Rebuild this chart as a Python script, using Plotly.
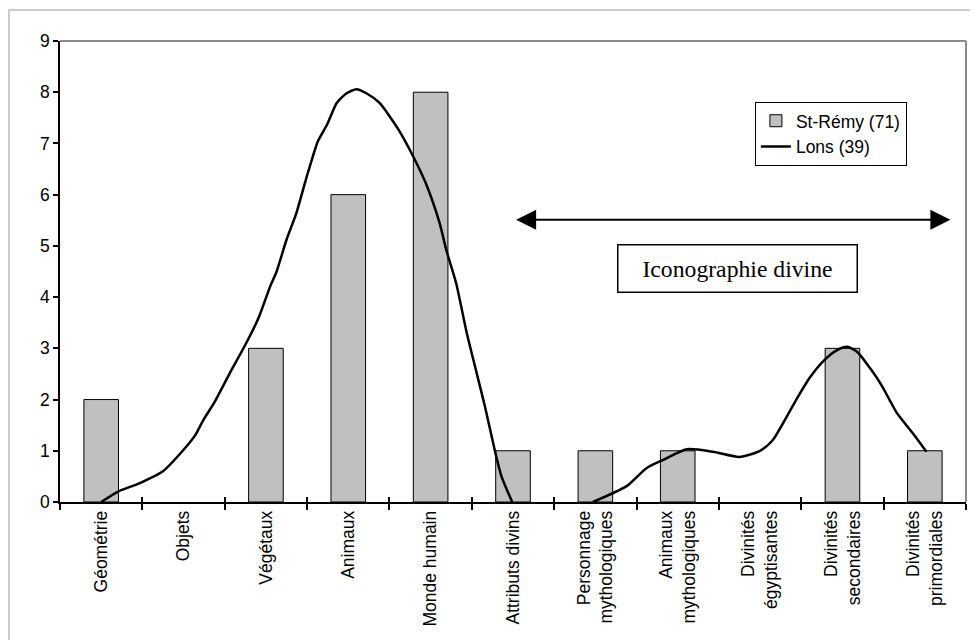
import plotly.graph_objects as go

categories = ["Géométrie", "Objets", "Végétaux", "Animaux", "Monde humain",
              "Attributs divins", "Personnage<br>mythologiques", "Animaux<br>mythologiques",
              "Divinités<br>égyptisantes", "Divinités<br>secondaires", "Divinités<br>primordiales"]
st_remy = [2, 0, 3, 6, 8, 1, 1, 1, 0, 3, 1]

# Lons (39): freehand curve, x in category units
lons_x = [0.0, 0.20, 0.47, 0.75, 0.99, 1.14, 1.24, 1.38, 1.56, 1.75, 1.91, 2.05, 2.13,
          2.25, 2.37, 2.49, 2.63, 2.74, 2.86, 2.98, 3.10, 3.22, 3.38, 3.61, 3.79, 3.95,
          4.11, 4.19, 4.31, 4.44, 4.56, 4.66, 4.78, 4.86, 4.99,
          None,
          5.97, 6.38, 6.62, 6.82, 7.11, 7.43, 7.75, 8.0, 8.15, 8.44, 8.60, 8.78, 8.94,
          9.06, 9.18, 9.35, 9.47, 9.57, 9.66, 9.85, 10.02]
lons_y = [0.0, 0.2, 0.37, 0.6, 1.0, 1.3, 1.6, 1.96, 2.51, 3.07, 3.59, 4.2, 4.5,
          5.12, 5.64, 6.32, 7.04, 7.36, 7.79, 7.98, 8.06, 7.98, 7.79, 7.27, 6.74, 6.19,
          5.44, 4.92, 4.27, 3.29, 2.51, 1.86, 1.0, 0.5, 0.0,
          None,
          0.0, 0.31, 0.66, 0.82, 1.03, 0.98, 0.88, 1.0, 1.2, 2.0, 2.42, 2.77, 2.97,
          3.03, 2.93, 2.58, 2.29, 2.0, 1.74, 1.35, 0.98]

y_ticks = list(range(0, 10))

idx = list(range(len(categories)))
bounds = [i - 0.5 for i in range(len(categories) + 1)]
outline_w = [0 if v == 0 else 1 for v in st_remy]

FS = 17.5

fig = go.Figure()
fig.add_trace(go.Bar(x=idx, y=st_remy, name="St-Rémy (71)", legendgroup="a",
                     marker=dict(color="#c0c0c0", line=dict(color="black", width=outline_w)),
                     width=0.42))
fig.add_trace(go.Scatter(x=lons_x, y=lons_y, name="Lons (39)", mode="lines", legendgroup="b",
                         line=dict(color="black", width=2.5, shape="spline", smoothing=0.6),
                         connectgaps=False))
# invisible trace on xaxis2 to activate inside ticks
fig.add_trace(go.Scatter(x=[0], y=[0], xaxis="x2", mode="markers",
                         marker=dict(opacity=0), showlegend=False, hoverinfo="skip"))

font_family = "Liberation Sans, Arial, sans-serif"
fig.update_layout(
    width=970, height=632,
    margin=dict(l=52, r=12, t=33, b=138, autoexpand=False),
    paper_bgcolor="white", plot_bgcolor="white",
    font=dict(family=font_family, size=FS, color="black"),
    showlegend=True,
    legend=dict(x=0.767, y=0.868, xanchor="left", yanchor="top",
                bgcolor="white", bordercolor="black", borderwidth=1,
                font=dict(size=FS), tracegroupgap=0, traceorder="grouped"),
    xaxis=dict(range=[-0.5, 10.5], tickvals=idx, ticktext=categories, tickangle=-90,
               ticks="", showline=True, linecolor="black", linewidth=1.5,
               showgrid=False, zeroline=False, automargin=False,
               minor=dict(tickvals=bounds, ticks="outside", ticklen=6, tickcolor="black",
                          tickwidth=1.5, showgrid=False),
               tickfont=dict(size=FS)),
    xaxis2=dict(range=[-0.5, 10.5], overlaying="x", anchor="y", side="bottom",
                tickvals=bounds, ticks="inside", ticklen=5, tickcolor="black", tickwidth=1.5,
                showticklabels=False, showgrid=False, zeroline=False, showline=False),
    yaxis=dict(range=[0, 9], tickvals=y_ticks, ticks="outside", ticklen=5,
               tickcolor="black", tickwidth=1.5, showline=True, linecolor="black",
               linewidth=1.5, showgrid=False, zeroline=False, automargin=False,
               tickfont=dict(size=FS)),
    bargap=0.58,
)

# plot-area top and right border (gray)
fig.add_shape(type="line", xref="paper", yref="paper", x0=0, x1=1, y0=1, y1=1,
              line=dict(color="#8a8a8a", width=2))
fig.add_shape(type="line", xref="paper", yref="paper", x0=1, x1=1, y0=0, y1=1,
              line=dict(color="#8a8a8a", width=2))
# outer chart-area border
fig.add_shape(type="rect", xref="paper", yref="paper", x0=-0.0563, x1=1.2, y0=-0.5, y1=1.0672,
              line=dict(color="#cccccc", width=2), layer="below")

# double-headed arrow
fig.add_annotation(x=10.31, y=5.51, ax=5.02, ay=5.51, xref="x", yref="y", axref="x", ayref="y",
                   text="", showarrow=True, arrowhead=2, startarrowhead=2, arrowside="end+start",
                   arrowsize=2, startarrowsize=2, arrowwidth=2, arrowcolor="black")
# text box
fig.add_annotation(x=7.73, y=4.55, xref="x", yref="y", text="Iconographie divine",
                   showarrow=False, font=dict(family="Liberation Serif, Times New Roman, serif",
                                              size=23.7, color="black"),
                   bgcolor="white", bordercolor="black", borderwidth=1.5, borderpad=0,
                   width=238, height=46)

fig.write_html("out.html")
